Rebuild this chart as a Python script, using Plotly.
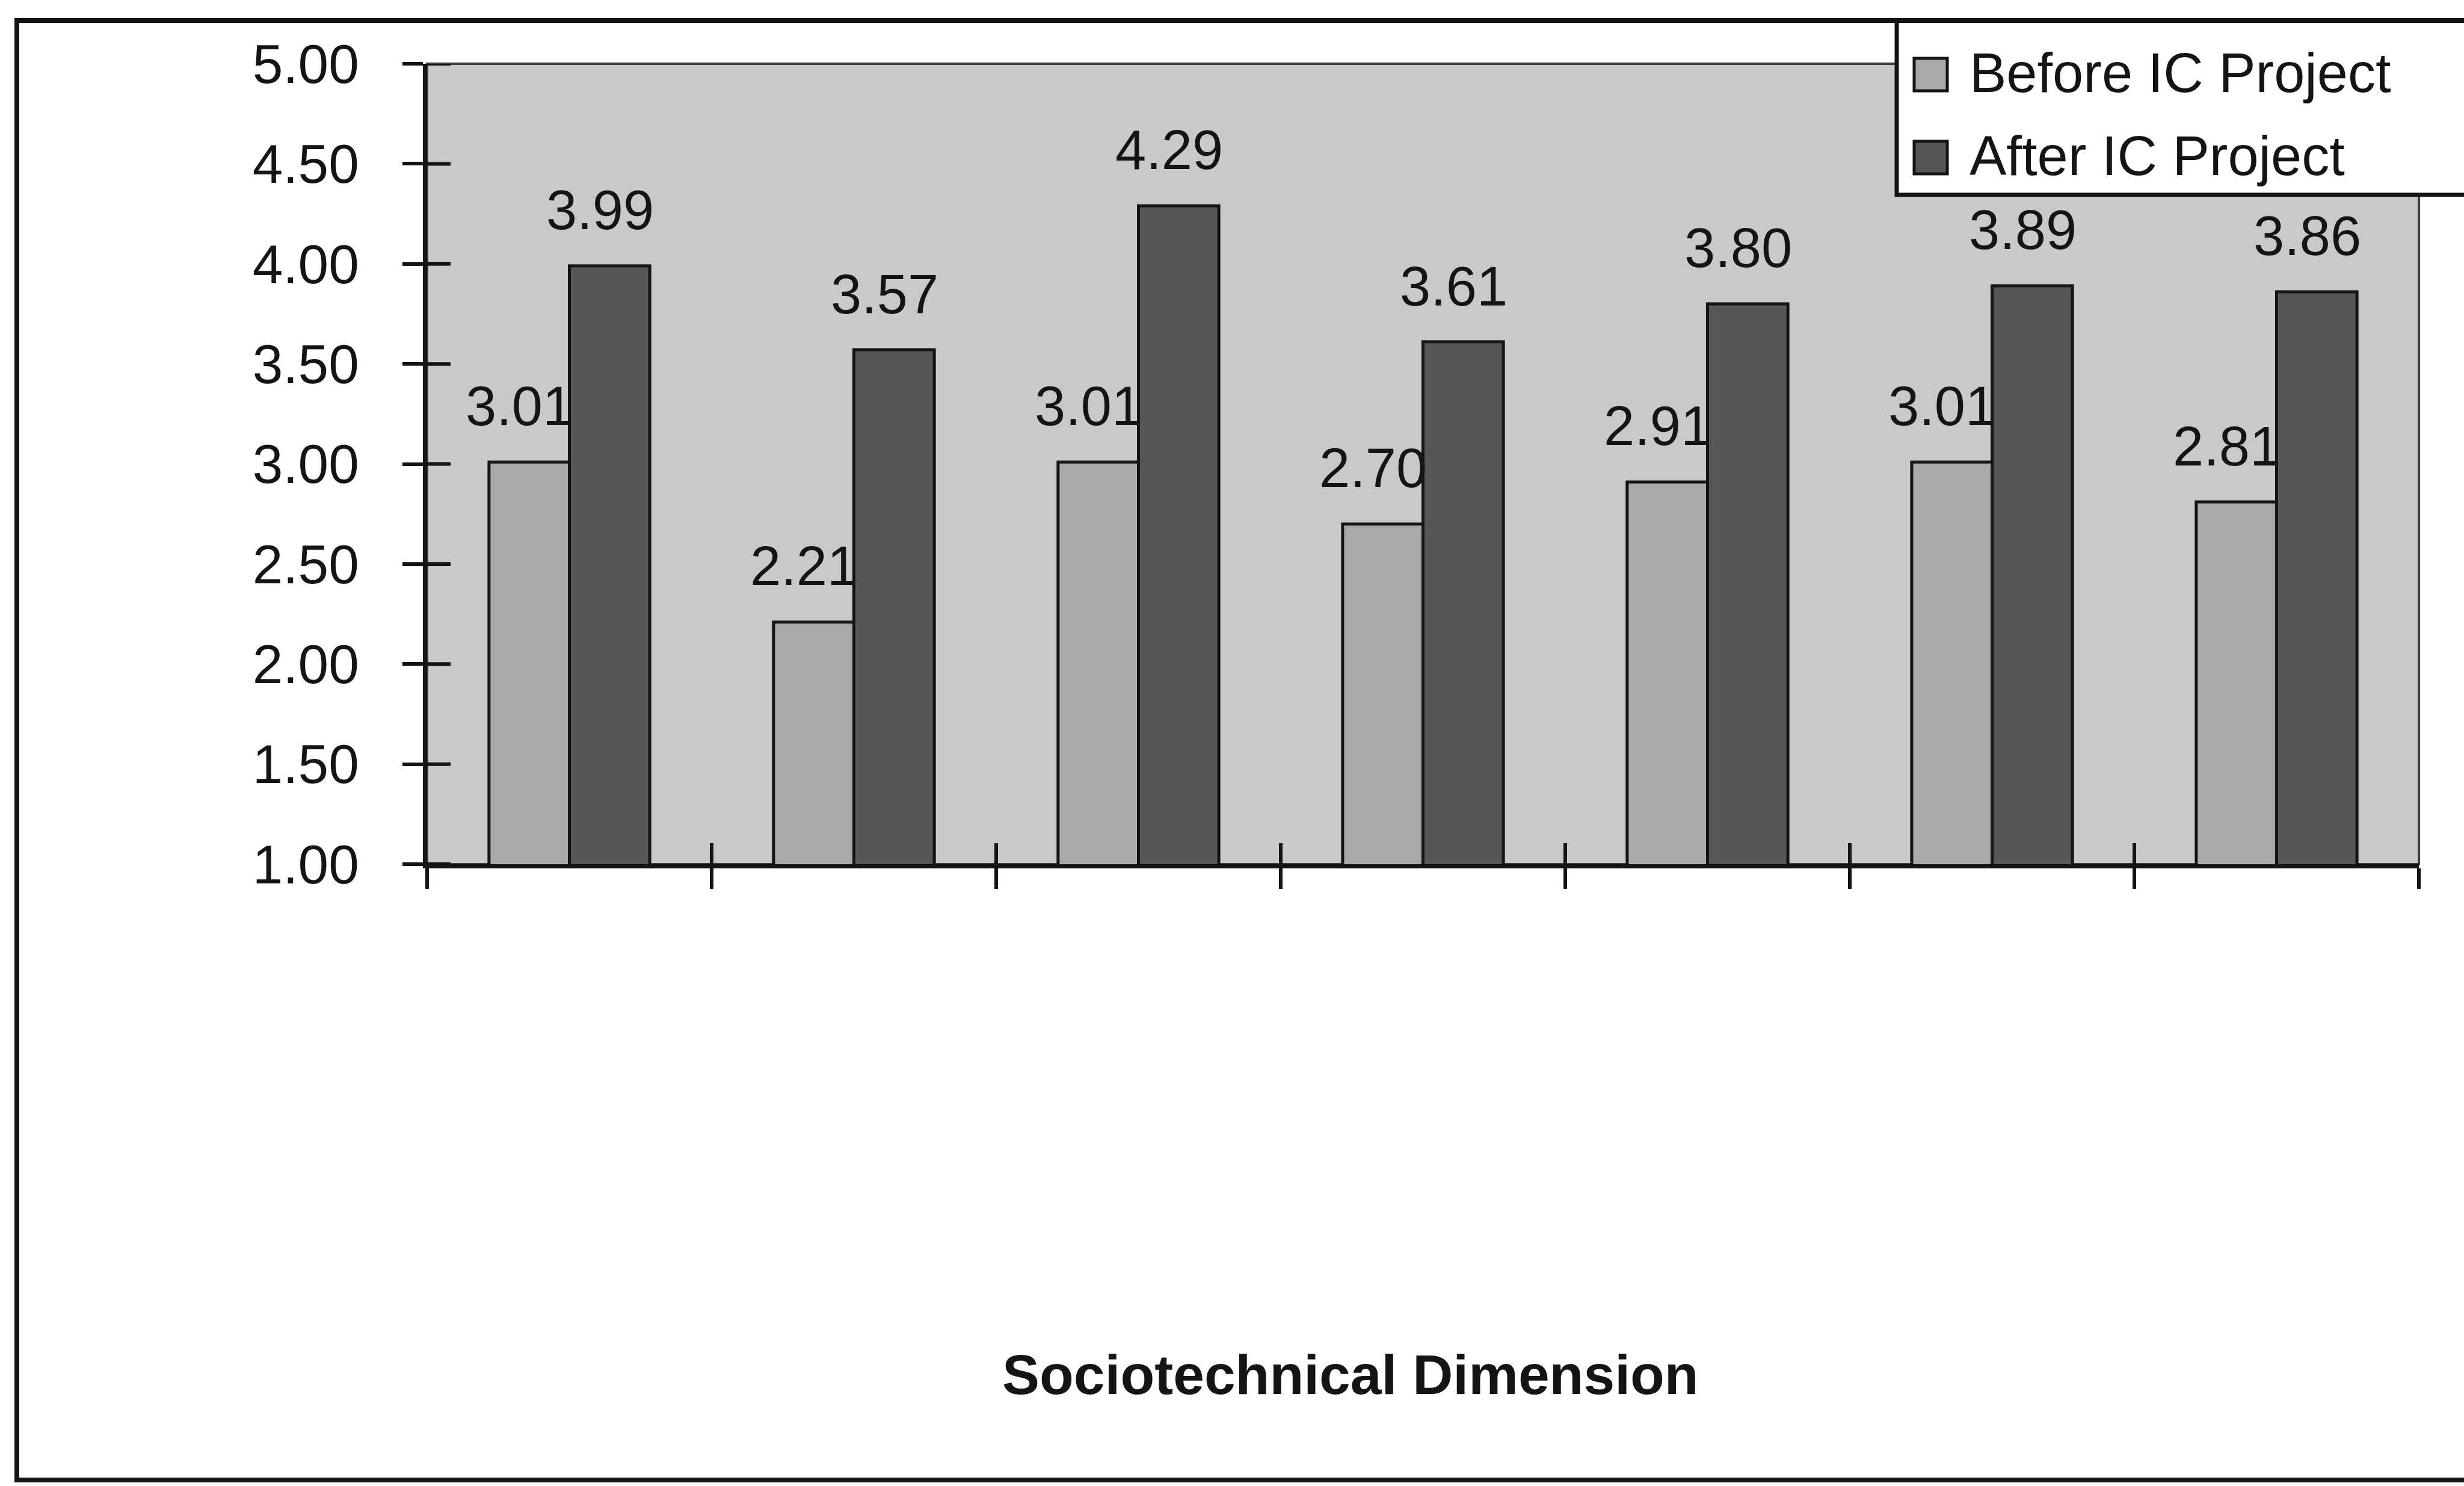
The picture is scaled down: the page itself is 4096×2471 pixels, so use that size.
import plotly.graph_objects as go

# Mean scores per sociotechnical dimension, before and after the IC project
dimensions = list(range(7))
before_ic = [3.01, 2.21, 3.01, 2.70, 2.91, 3.01, 2.81]
after_ic = [3.99, 3.57, 4.29, 3.61, 3.80, 3.89, 3.86]
series_names = ["Before IC Project", "After IC Project"]
y_ticks = [1.0, 1.5, 2.0, 2.5, 3.0, 3.5, 4.0, 4.5, 5.0]
axis_title = "Sociotechnical Dimension"

W, H = 4096, 2471
ML, MR, MT, MB = 710, 75, 106, 1034
PW, PH = W - ML - MR, H - MT - MB

FONT = "Liberation Sans, Arial, Helvetica, sans-serif"
BG = "#c9c9c9"
C_BEFORE = "#a9a9a9"
C_AFTER = "#575757"
INK = "#141414"

BARGAP = 0.435
bar_w = (1 - BARGAP) / 2


def px_x(px):
    return (px - ML) / PW


def px_y(py):
    return 1 - (py - MT) / PH


fig = go.Figure()
fig.add_trace(go.Bar(
    x=dimensions, y=before_ic, name=series_names[0],
    marker=dict(color=C_BEFORE, line=dict(color=INK, width=5)),
    showlegend=False, hoverinfo="skip",
))
fig.add_trace(go.Bar(
    x=dimensions, y=after_ic, name=series_names[1],
    marker=dict(color=C_AFTER, line=dict(color=INK, width=5)),
    showlegend=False, hoverinfo="skip",
))
# helper subplot that carries the upward half of the category tick marks
fig.add_trace(go.Scatter(x=[], y=[], xaxis="x2", yaxis="y",
                         showlegend=False, hoverinfo="skip"))

# value labels above each bar
annotations = []
for series, sign in ((before_ic, -1), (after_ic, 1)):
    for xi, v in zip(dimensions, series):
        annotations.append(dict(
            x=xi + sign * bar_w / 2, y=v, xref="x", yref="y",
            text=f"{v:.2f}", showarrow=False,
            xanchor="center", yanchor="bottom", yshift=40, xshift=-16,
            font=dict(family=FONT, size=92, color=INK),
        ))

# axis title
annotations.append(dict(
    x=px_x(2245), y=px_y(2286), xref="paper", yref="paper",
    text=f"<b>{axis_title}</b>", showarrow=False,
    xanchor="center", yanchor="middle",
    font=dict(family=FONT, size=93, color=INK),
))

# legend entries
leg_rows = [124, 262]
leg_colors = [C_BEFORE, C_AFTER]
shapes = []
for name, cy, col in zip(series_names, leg_rows, leg_colors):
    shapes.append(dict(
        type="rect", xref="paper", yref="paper",
        x0=px_x(3182), x1=px_x(3237), y0=px_y(cy - 27), y1=px_y(cy + 27),
        fillcolor=col, line=dict(color=INK, width=5), layer="above",
    ))
    annotations.append(dict(
        x=px_x(3272), y=px_y(cy - 3), xref="paper", yref="paper",
        text=name, showarrow=False, xanchor="left", yanchor="middle",
        font=dict(family=FONT, size=92, color=INK),
    ))

# legend box (runs off the right edge)
shapes.insert(0, dict(
    type="rect", xref="paper", yref="paper",
    x0=px_x(3153), x1=px_x(4300), y0=px_y(324), y1=px_y(34),
    fillcolor="white", line=dict(color=INK, width=7), layer="above",
))
# plot-area outline (top and right edges)
shapes.append(dict(
    type="rect", xref="x domain", yref="y domain", x0=0, x1=1, y0=0, y1=1,
    line=dict(color="#3c3c3c", width=4), layer="below",
))
# inward half of the value-axis tick marks
for t in y_ticks:
    shapes.append(dict(
        type="line", xref="x domain", yref="y", x0=0, x1=39 / PW, y0=t, y1=t,
        line=dict(color=INK, width=6), layer="above",
    ))
# outer chart frame
shapes.append(dict(
    type="rect", xref="paper", yref="paper",
    x0=px_x(28), x1=px_x(4300), y0=px_y(2461), y1=px_y(34),
    fillcolor="rgba(0,0,0,0)", line=dict(color=INK, width=8), layer="above",
))

x_bounds = [d - 0.5 for d in dimensions] + [dimensions[-1] + 0.5]
x_range = [x_bounds[0], x_bounds[-1]]

fig.update_layout(
    width=W, height=H,
    margin=dict(l=ML, r=MR, t=MT, b=MB),
    paper_bgcolor="white", plot_bgcolor=BG,
    barmode="group", bargap=BARGAP, bargroupgap=0,
    showlegend=False,
    font=dict(family=FONT, color=INK),
    xaxis=dict(
        range=x_range, tickmode="array", tickvals=x_bounds,
        showticklabels=False, ticks="outside", ticklen=34, tickwidth=6,
        tickcolor=INK, showline=True, linecolor=INK, linewidth=7,
        showgrid=False, zeroline=False, fixedrange=True,
    ),
    yaxis=dict(
        range=[y_ticks[0], y_ticks[-1]], tickmode="array", tickvals=y_ticks,
        tickformat=".2f", ticks="outside", ticklen=34, tickwidth=6,
        tickcolor=INK, showline=True, linecolor=INK, linewidth=7,
        showgrid=False, zeroline=False, ticklabelstandoff=54,
        tickfont=dict(family=FONT, size=91, color=INK), fixedrange=True,
    ),
    xaxis2=dict(
        overlaying="x", anchor="y", range=x_range, tickmode="array",
        tickvals=x_bounds, showticklabels=False, ticks="inside", ticklen=35,
        tickwidth=6, tickcolor=INK, showline=False, showgrid=False,
        zeroline=False, fixedrange=True,
    ),
    annotations=annotations,
    shapes=shapes,
)

fig.write_html("out.html", config={"displayModeBar": False})
